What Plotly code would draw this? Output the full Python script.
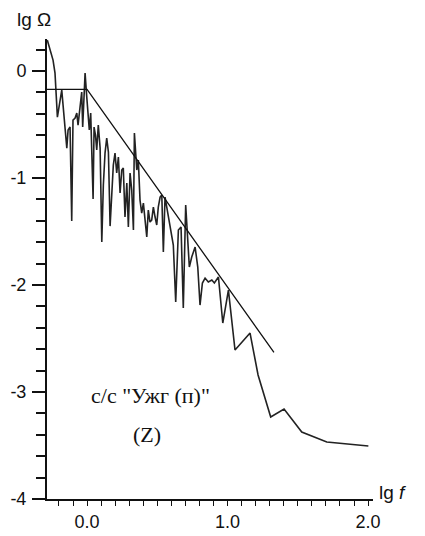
import plotly.graph_objects as go

# Spectrum: lg f vs lg Omega
lg_f = [-0.283, -0.242, -0.228, -0.211, -0.180, -0.144, -0.135, -0.121, -0.109, -0.100,
        -0.085, -0.073, -0.064, -0.050, -0.038, -0.031, -0.014, -0.002, 0.016, 0.026,
        0.033, 0.043, 0.050, 0.060, 0.069, 0.080, 0.093, 0.105, 0.116, 0.128,
        0.140, 0.152, 0.164, 0.176, 0.187, 0.199, 0.211, 0.223, 0.235, 0.247,
        0.258, 0.270, 0.283, 0.294, 0.306, 0.318, 0.330, 0.337, 0.354, 0.365,
        0.377, 0.389, 0.401, 0.413, 0.425, 0.436, 0.448, 0.460, 0.472, 0.484,
        0.496, 0.507, 0.520, 0.532, 0.543, 0.555, 0.567, 0.591, 0.614, 0.631,
        0.650, 0.669, 0.685, 0.702, 0.714, 0.728, 0.745, 0.769, 0.788, 0.804,
        0.821, 0.840, 0.863, 0.888, 0.906, 0.935, 0.966, 1.006, 1.053, 1.160,
        1.217, 1.307, 1.402, 1.528, 1.706, 2.002]
lg_omega = [0.290, 0.103, -0.019, -0.430, -0.178, -0.720, -0.551, -0.523, -1.402, -0.458,
            -0.439, -0.393, -0.505, -0.364, -0.196, -0.523, -0.019, -0.243, -0.551, -0.393,
            -0.692, -1.196, -0.523, -0.598, -0.738, -0.505, -0.720, -1.598, -1.065, -0.766,
            -0.626, -0.757, -1.449, -1.065, -0.879, -0.766, -0.953, -0.804, -1.140, -0.925,
            -0.907, -1.364, -1.047, -1.458, -0.953, -1.112, -1.486, -0.579, -0.925, -0.832,
            -1.206, -1.327, -1.234, -1.393, -1.551, -1.299, -1.411, -1.393, -1.271, -1.364,
            -1.439, -1.271, -1.178, -1.159, -1.692, -1.178, -1.271, -1.467, -1.626, -2.159,
            -1.486, -1.458, -2.215, -1.252, -1.486, -1.832, -1.738, -1.645, -1.832, -2.187,
            -1.981, -1.935, -1.972, -1.953, -1.981, -1.925, -2.355, -2.047, -2.607, -2.449,
            -2.841, -3.234, -3.159, -3.374, -3.467, -3.505]

# Envelope (plateau + straight decay)
env_f = [-0.285, 0.0, 1.33]
env_omega = [-0.17, -0.17, -2.63]

x_ticks = [0.0, 1.0, 2.0]
x_tick_text = ["0.0", "1.0", "2.0"]
y_ticks = [0, -1, -2, -3, -4]
y_tick_text = ["0", "-1", "-2", "-3", "-4"]

fig = go.Figure()
fig.add_trace(go.Scatter(x=lg_f, y=lg_omega, mode="lines",
                         line=dict(color="#222222", width=1.6), showlegend=False))
fig.add_trace(go.Scatter(x=env_f, y=env_omega, mode="lines",
                         line=dict(color="#111111", width=1.3), showlegend=False))

tickfont = dict(family="Liberation Sans, Arial, sans-serif", size=18, color="#111")

fig.update_layout(
    width=417, height=528,
    margin=dict(l=39, r=52, t=31, b=37),
    paper_bgcolor="white", plot_bgcolor="white",
    xaxis=dict(range=[-0.285, 2.035], showgrid=False, zeroline=False, automargin=False,
               showline=True, linecolor="#111", linewidth=2,
               ticks="outside", ticklen=5, tickwidth=1, tickcolor="#111",
               tickvals=x_ticks, ticktext=x_tick_text, tickfont=tickfont,
               minor=dict(dtick=0.1, tick0=0, ticks="outside", ticklen=5,
                          tickwidth=1, tickcolor="#111"),
               fixedrange=True),
    yaxis=dict(range=[-4, 0.3], showgrid=False, zeroline=False, automargin=False,
               showline=True, linecolor="#111", linewidth=2,
               ticks="outside", ticklen=13, tickwidth=1.5, tickcolor="#111",
               tickvals=y_ticks, ticktext=y_tick_text, tickfont=tickfont,
               ticklabelstandoff=2,
               minor=dict(dtick=0.2, tick0=0, ticks="outside", ticklen=9,
                          tickwidth=1.5, tickcolor="#111"),
               fixedrange=True),
    annotations=[
        dict(text="lg Ω", xref="paper", yref="paper", x=-0.04, y=1.043,
             xanchor="center", yanchor="middle", showarrow=False,
             font=dict(family="Liberation Sans, Arial, sans-serif", size=19, color="#111")),
        dict(text="lg <i>f</i>", xref="paper", yref="paper", x=1.061, y=0.015,
             xanchor="center", yanchor="middle", showarrow=False,
             font=dict(family="Liberation Sans, Arial, sans-serif", size=19, color="#111")),
        dict(text="с/с \"Ужг (п)\"", xref="x", yref="y", x=0.448, y=-3.03,
             xanchor="center", yanchor="middle", showarrow=False,
             font=dict(family="Liberation Serif, Times New Roman, serif", size=22, color="#111")),
        dict(text="(Z)", xref="x", yref="y", x=0.427, y=-3.40,
             xanchor="center", yanchor="middle", showarrow=False,
             font=dict(family="Liberation Serif, Times New Roman, serif", size=22, color="#111")),
    ],
)

fig.write_html("out.html")
